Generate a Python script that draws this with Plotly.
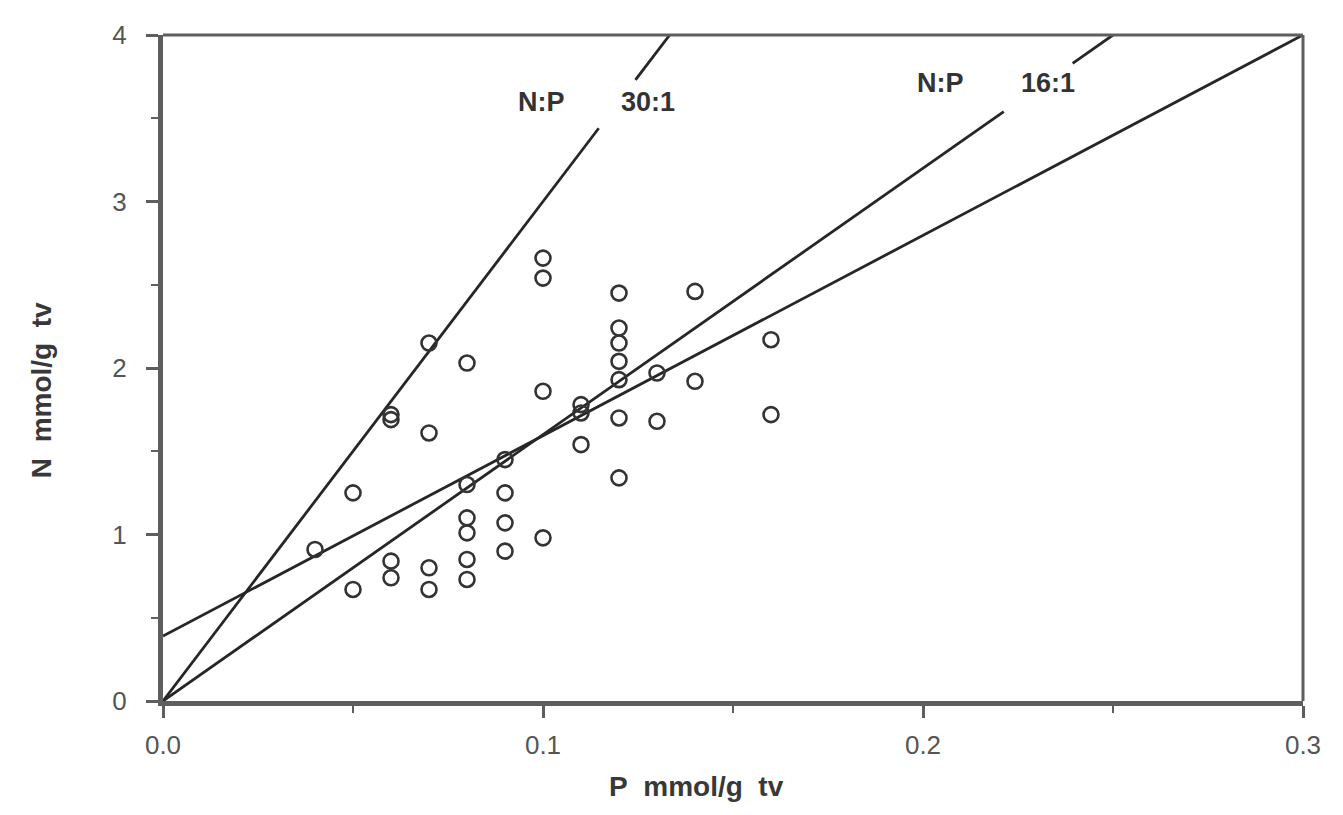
import plotly.graph_objects as go

# ---- data ----
P = [0.04,
     0.05, 0.05,
     0.06, 0.06, 0.06, 0.06,
     0.07, 0.07, 0.07, 0.07,
     0.08, 0.08, 0.08, 0.08, 0.08, 0.08,
     0.09, 0.09, 0.09, 0.09,
     0.10, 0.10, 0.10, 0.10,
     0.11, 0.11, 0.11,
     0.12, 0.12, 0.12, 0.12, 0.12, 0.12, 0.12,
     0.13, 0.13,
     0.14, 0.14,
     0.16, 0.16]
N = [0.91,
     1.25, 0.67,
     1.72, 1.69, 0.84, 0.74,
     2.15, 1.61, 0.80, 0.67,
     2.03, 1.30, 1.10, 1.01, 0.85, 0.73,
     1.45, 1.25, 1.07, 0.90,
     2.66, 2.54, 1.86, 0.98,
     1.78, 1.73, 1.54,
     2.45, 2.24, 2.15, 2.04, 1.93, 1.70, 1.34,
     1.97, 1.68,
     2.46, 1.92,
     2.17, 1.72]

ratios = [30, 16]
ratio_texts = ["30:1", "16:1"]
gap_low = [3.44, 3.54]      # N where each ratio line is interrupted by its label
gap_high = [3.73, 3.83]
np_label_P = [0.0995, 0.2045]  # "N:P" part of the label
ratio_label_P = [0.1275, 0.2330]
label_N = [3.60, 3.71]

reg_intercept = 0.39
reg_end = (0.30, 4.0)

x_range = [0, 0.3]
y_range = [0, 4]
x_ticks = [0.0, 0.1, 0.2, 0.3]
x_ticklabels = ["0.0", "0.1", "0.2", "0.3"]
y_ticks = [0, 1, 2, 3, 4]
y_ticklabels = ["0", "1", "2", "3", "4"]

line_col = "#262626"
axis_col = "#5e5e5e"
font_fam = "Liberation Sans, Arial, sans-serif"

fig = go.Figure()

# ratio lines with a gap at the label
for r, lo, hi in zip(ratios, gap_low, gap_high):
    xs = [0, lo / r, None, hi / r, y_range[1] / r]
    ys = [None if v is None else r * v for v in xs]
    fig.add_trace(go.Scatter(x=xs, y=ys, mode="lines",
                             line=dict(color=line_col, width=2.8),
                             hoverinfo="skip", showlegend=False, cliponaxis=False))

# regression line
fig.add_trace(go.Scatter(x=[0, reg_end[0]], y=[reg_intercept, reg_end[1]], mode="lines",
                         line=dict(color=line_col, width=2.8),
                         hoverinfo="skip", showlegend=False, cliponaxis=False))

# data points
fig.add_trace(go.Scatter(x=P, y=N, mode="markers",
                         marker=dict(symbol="circle-open", size=15, color="#333333",
                                     line=dict(color="#333333", width=2.6)),
                         showlegend=False))

label_font = dict(family=font_fam, size=27, color="#333333", weight="bold")
for px, py in zip(np_label_P, label_N):
    fig.add_annotation(x=px, y=py, text="N:P", showarrow=False, font=label_font)
for txt, px, py in zip(ratio_texts, ratio_label_P, label_N):
    fig.add_annotation(x=px, y=py, text=txt, showarrow=False, font=label_font)

# axis titles
title_font = dict(family=font_fam, size=28, color="#383838", weight="bold")
fig.add_annotation(xref="paper", yref="paper", x=0.468, y=-0.128,
                   xanchor="center", yanchor="middle",
                   text="P\u00a0\u00a0mmol/g\u00a0\u00a0tv", showarrow=False, font=title_font)
fig.add_annotation(xref="paper", yref="paper", x=-0.106, y=0.467, textangle=-90,
                   xanchor="center", yanchor="middle",
                   text="N\u00a0\u00a0mmol/g\u00a0\u00a0tv", showarrow=False, font=title_font)

# top and right frame lines (thinner)
fig.add_shape(type="line", xref="paper", yref="paper", x0=0, x1=1, y0=1, y1=1,
              line=dict(color=axis_col, width=3))
fig.add_shape(type="line", xref="paper", yref="paper", x0=1, x1=1, y0=0, y1=1,
              line=dict(color=axis_col, width=3))

tick_font = dict(family=font_fam, size=26, color="#555555")
fig.update_xaxes(range=x_range, showgrid=False, zeroline=False,
                 showline=True, linecolor=axis_col, linewidth=5,
                 ticks="outside", ticklen=12, tickwidth=2.5, tickcolor=axis_col,
                 tickvals=x_ticks, ticktext=x_ticklabels,
                 minor=dict(tickvals=[0.05, 0.15, 0.25], ticks="outside", ticklen=7,
                            tickwidth=2, tickcolor=axis_col),
                 tickfont=tick_font, ticklabelstandoff=5)
fig.update_yaxes(range=y_range, showgrid=False, zeroline=False,
                 showline=True, linecolor=axis_col, linewidth=5,
                 ticks="outside", ticklen=12, tickwidth=2.5, tickcolor=axis_col,
                 tickvals=y_ticks, ticktext=y_ticklabels,
                 minor=dict(tickvals=[0.5, 1.5, 2.5, 3.5], ticks="outside", ticklen=7,
                            tickwidth=2, tickcolor=axis_col),
                 tickfont=tick_font, ticklabelstandoff=14)

fig.update_layout(width=1327, height=799,
                  margin=dict(l=155, r=32, t=20, b=106),
                  paper_bgcolor="white", plot_bgcolor="white")

fig.write_html("out.html")
